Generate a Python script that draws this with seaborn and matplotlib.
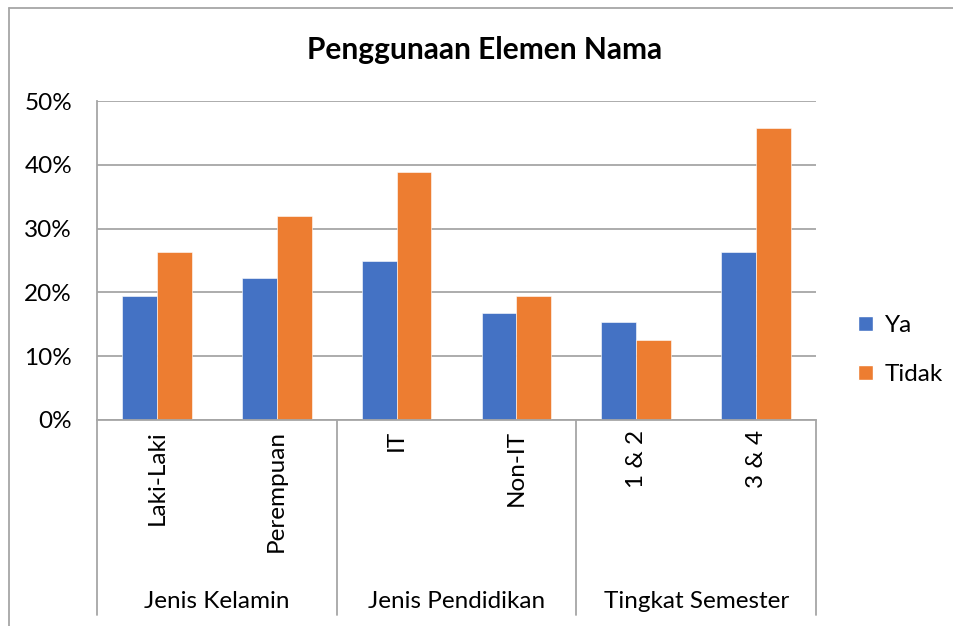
import pandas as pd
import seaborn as sns
import matplotlib.pyplot as plt
from matplotlib.lines import Line2D
from matplotlib.patches import Patch
from matplotlib.ticker import PercentFormatter
import matplotlib.transforms as mtransforms

# === data ===
categories = ["Laki-Laki", "Perempuan", "IT", "Non-IT", "1 & 2", "3 & 4"]
groups = ["Jenis Kelamin", "Jenis Pendidikan", "Tingkat Semester"]
ya = [0.194, 0.222, 0.250, 0.167, 0.153, 0.264]
tidak = [0.264, 0.319, 0.389, 0.194, 0.125, 0.458]
series = ["Ya", "Tidak"]
colors = ["#4472C4", "#ED7D31"]

df = pd.DataFrame({
    "kategori": categories * 2,
    "nilai": ya + tidak,
    "seri": ["Ya"] * len(ya) + ["Tidak"] * len(tidak),
})

sns.set_theme(style="white")
plt.rcParams["font.family"] = ["Lato", "DejaVu Sans"]
plt.rcParams["text.color"] = "black"
fs = 17.5

fig = plt.figure(figsize=(9.54, 6.26), dpi=100)
ax = fig.add_axes([97 / 954, 1 - 420 / 626, 719 / 954, 319 / 626])

sns.barplot(data=df, x="kategori", y="nilai", hue="seri", order=categories,
            hue_order=series, palette=colors, saturation=1, width=0.58, gap=0,
            edgecolor="white", linewidth=0.4, ax=ax, legend=False)

ax.set_ylim(0, 0.5)
ax.set_xlim(-0.5, 5.5)
ax.set_yticks([0, 0.1, 0.2, 0.3, 0.4, 0.5])
ax.yaxis.set_major_formatter(PercentFormatter(1.0, decimals=0))
ax.yaxis.grid(True, color="#A6A6A6", linewidth=1.3)
ax.set_axisbelow(True)
for s in ["top", "right"]:
    ax.spines[s].set_visible(False)
for s in ["left", "bottom"]:
    ax.spines[s].set_color("#A6A6A6")
    ax.spines[s].set_linewidth(1.3)
ax.tick_params(axis="y", labelsize=fs, pad=18, length=0, labelcolor="black")
ax.set_xticks([])
ax.set_xlabel("")
ax.set_ylabel("")

# multi-level category axis
trans = mtransforms.blended_transform_factory(ax.transData, ax.transAxes)
for xv in [-0.5, 1.5, 3.5, 5.5]:
    ax.add_line(Line2D([xv, xv], [0, -195 / 319], transform=trans,
                       color="#A6A6A6", linewidth=1.3, clip_on=False))
for i, c in enumerate(categories):
    ax.text(i, -10 / 319, c, transform=trans, rotation=90, ha="center",
            va="top", fontsize=fs)
for j, g in enumerate(groups):
    ax.text(2 * j + 0.5, -181 / 319, g, transform=trans, ha="center",
            va="center", fontsize=fs)

fig.text(485 / 954, 1 - 50 / 626, "Penggunaan Elemen Nama", ha="center",
         va="center", fontsize=21.5, fontweight="bold")

handles = [Patch(facecolor=colors[0], label="Ya"),
           Patch(facecolor=colors[1], label="Tidak")]
fig.legend(handles=handles, loc="center left", bbox_to_anchor=(858 / 954, 1 - 350 / 626),
           frameon=False, fontsize=fs, handlelength=0.6, handleheight=0.6,
           handletextpad=0.5, labelspacing=1.15, borderpad=0, borderaxespad=0)

# outer chart border (top and left edges visible)
fig.add_artist(Line2D([9 / 954, 1], [1 - 8 / 626, 1 - 8 / 626], transform=fig.transFigure,
                      color="#A6A6A6", linewidth=1.3))
fig.add_artist(Line2D([9 / 954, 9 / 954], [0, 1 - 8 / 626], transform=fig.transFigure,
                      color="#A6A6A6", linewidth=1.3))

plt.savefig("out.png", dpi=100)
